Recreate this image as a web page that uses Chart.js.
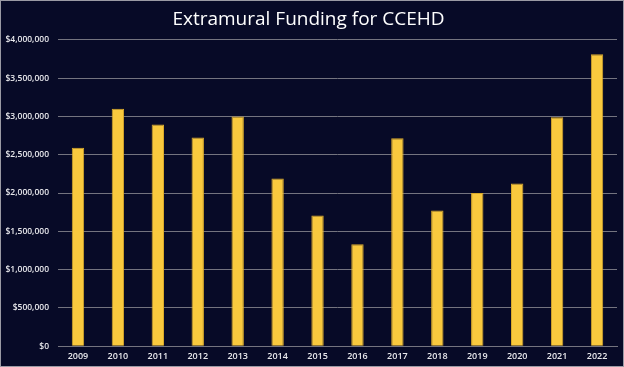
<!DOCTYPE html>
<html>
<head>
<meta charset="utf-8">
<script src="https://cdn.jsdelivr.net/npm/chart.js@4/dist/chart.umd.min.js"></script>
<style>
html,body{margin:0;padding:0;background:#070a27;}
#wrap{position:absolute;left:0;top:0;width:624px;height:367px;}
</style>
</head>
<body>
<div id="wrap"><canvas id="c" width="624" height="367"></canvas></div>
<script>
const years = ['2009','2010','2011','2012','2013','2014','2015','2016','2017','2018','2019','2020','2021','2022'];
const funding = [2590000,3100000,2895000,2725000,3000000,2190000,1705000,1330000,2715000,1770000,2000000,2125000,2990000,3810000];
const yTicks = [0,500000,1000000,1500000,2000000,2500000,3000000,3500000,4000000];

const bgPlugin = {
  id:'bg',
  beforeDraw(chart){
    const ctx = chart.ctx;
    ctx.save();
    ctx.fillStyle = '#070a27';
    ctx.fillRect(0,0,chart.width,chart.height);
    ctx.restore();
  },
  afterDraw(chart){
    const ctx = chart.ctx;
    ctx.save();
    ctx.strokeStyle = '#9a9aa4';
    ctx.lineWidth = 1;
    ctx.strokeRect(0.5,0.5,chart.width-1,chart.height-1);
    ctx.restore();
  }
};

new Chart(document.getElementById('c'), {
  type:'bar',
  data:{
    labels: years,
    datasets:[{
      data: funding,
      backgroundColor:'#f9c93e',
      borderColor:'#d9a92a',
      borderWidth:1,
      barPercentage:0.31,
      categoryPercentage:1.0
    }]
  },
  options:{
    responsive:false,
    animation:false,
    devicePixelRatio:1,
    layout:{padding:{left:0,right:7,top:0,bottom:0}},
    plugins:{
      legend:{display:false},
      tooltip:{enabled:false},
      title:{
        display:true,
        text:'Extramural Funding for CCEHD',
        color:'#ffffff',
        font:{family:'Open Sans', size:19, weight:'normal'},
        padding:{top:8,bottom:9}
      }
    },
    scales:{
      x:{
        grid:{display:false, drawTicks:false},
        border:{display:true,color:'#74747f',width:1},
        ticks:{color:'#e8e8ec',font:{family:'Open Sans',size:9,weight:'600'},padding:5,maxRotation:0}
      },
      y:{
        min:0,max:4000000,
        afterFit(scale){scale.width = 58;},
        afterBuildTicks(scale){scale.ticks = yTicks.map(v=>({value:v}));},
        grid:{color:'#74747f',lineWidth:1,drawTicks:false},
        border:{display:false},
        ticks:{
          color:'#e8e8ec',
          font:{family:'Open Sans',size:8.5,weight:'600'},
          padding:9,
          callback:(v)=>'$'+Number(v).toLocaleString('en-US')
        }
      }
    }
  },
  plugins:[bgPlugin]
});
</script>
</body>
</html>
